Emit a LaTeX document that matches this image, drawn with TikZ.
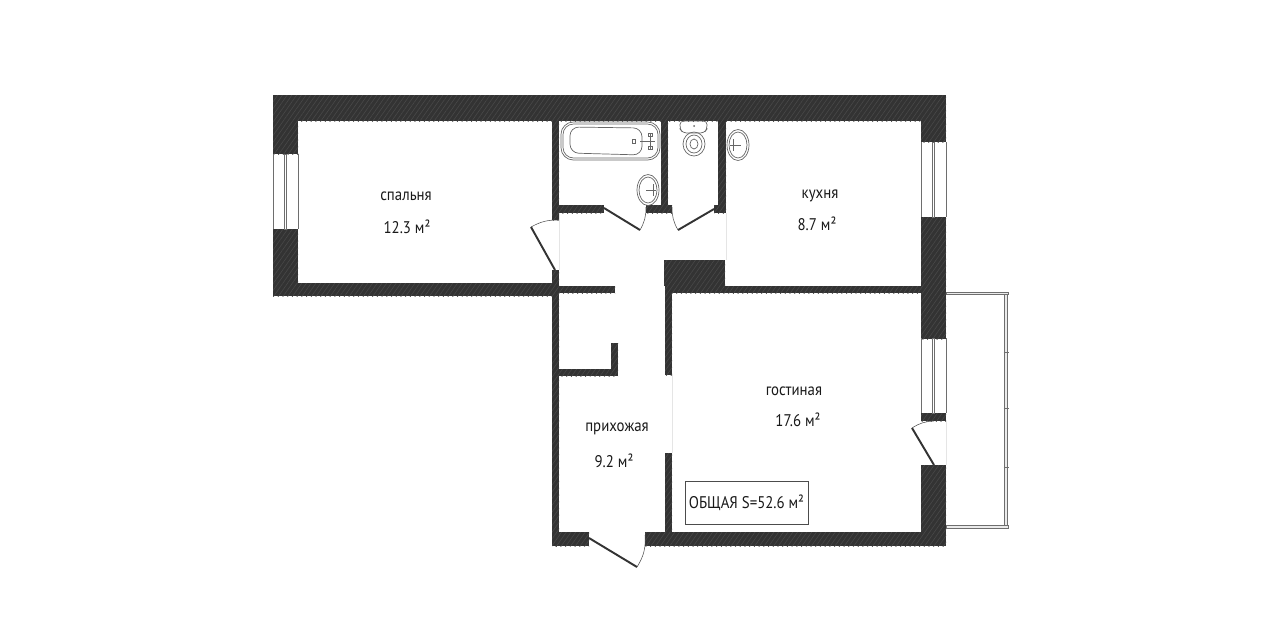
\documentclass[tikz,border=0pt]{standalone}
\usepackage{fontspec}
\setmainfont[FakeStretch=0.88]{PT Sans}
\usetikzlibrary{patterns.meta}
\definecolor{wallbase}{HTML}{333333}
\definecolor{wallhatch}{HTML}{484848}
\definecolor{framegray}{HTML}{6E6E6E}
\tikzset{
	wall/.style={preaction={fill=wallbase},pattern={Lines[angle=55,distance=2.2pt,line width=0.35pt]},pattern color=wallhatch},
	leaf/.style={line width=1.1pt,color=wallbase},
	swing/.style={line width=0.3pt,color=black!70},
	opening/.style={line width=0.3pt,color=black!10},
	fixture/.style={line width=0.4pt,color=black!60},
	roomlabel/.style={font=\fontsize{9.6}{11}\selectfont,inner sep=0pt,text=black!90},
}
\begin{document}
\begin{tikzpicture}[x=0.02cm,y=-0.02cm]
	\useasboundingbox (0, 0) rectangle (1280, 640);
	% walls
	\foreach \xa/\ya/\xb/\yb in {
		273/95/946/121, 273/121/298/154, 273/229/298/296, 298/283/559/296,
		921/121/946/142, 921/217/946/339, 921/413/946/421, 921/465/946/546,
		552/121/559/220, 552/270/559/546, 559/205/604/213, 646/205/672/213,
		661/121/668/205, 718/121/726/213, 714/205/718/213, 664/260/725/286,
		665/286/921/293, 665/293/672/375, 665/453/672/532, 559/286/615/293,
		559/369/618/376, 611/343/618/369, 552/532/589/546, 645/532/921/546}
		\fill[wall] (\xa, \ya) rectangle (\xb, \yb);
	% windows
	\foreach \xa/\ya/\xb/\yb in {273/154/298/229, 921/142/946/217, 921/338/946/413} {
		\draw[line width=0.35pt,framegray] (\xa, \ya) -- (\xa, \yb);
		\draw[line width=0.35pt,framegray] (\xb, \ya) -- (\xb, \yb);
		\draw[line width=0.35pt,framegray] ({(\xa+\xb)/2-1.2}, \ya) rectangle ({(\xa+\xb)/2+1.2}, \yb);
	}
	% doors
	\draw[leaf] (555, 270) -- (531, 227);
	\draw[swing] (531, 227) to[bend left=15] (559, 220);
	\draw[leaf] (604, 208) -- (640, 230);
	\draw[swing] (640, 230) to[bend right=15] (646, 207);
	\draw[leaf] (714, 209) -- (678, 230);
	\draw[swing] (678, 230) to[bend left=15] (672, 207);
	\draw[leaf] (589, 538) -- (637, 567);
	\draw[swing] (637, 567) to[bend right=18] (645, 535);
	\draw[leaf] (934, 465) -- (912, 428);
	\draw[swing] (912, 428) to[bend left=15] (934, 421);
	% openings
	\draw[opening] (559, 213) -- (559, 270);
	\draw[opening] (726, 213) -- (726, 260);
	\draw[opening] (672, 375) -- (672, 453);
	\draw[opening] (946, 421) -- (946, 465);
	% balcony
	\draw[line width=0.45pt,framegray,fill=black!8] (946, 292) rectangle (1008, 294.5);
	\draw[line width=0.45pt,framegray,fill=black!8] (946, 525.5) rectangle (1008, 528);
	\draw[line width=0.45pt,framegray,fill=black!8] (1004.5, 294.5) rectangle (1007.5, 525.5);
	\foreach \ya in {352, 408, 467}
		\draw[line width=0.4pt,framegray] (1003.5, \ya) -- (1009, \ya);
	% bath
	\draw[fixture,rounded corners=7pt] (561, 122) rectangle (660, 160);
	\draw[fixture,rounded corners=6pt] (563, 124) rectangle (658, 158);
	\draw[fixture,rounded corners=5pt] (570, 127) -- (642, 128) -- (642, 155) -- (570, 153) -- cycle;
	\draw[fixture] (632, 139) rectangle (635, 143);
	\draw[fixture] (640, 141) -- (655, 141);
	\draw[fixture] (650, 133) -- (650, 149);
	\draw[fixture] (648, 133) rectangle (652, 136);
	\draw[fixture] (648, 146) rectangle (652, 149);
	% basins
	\foreach \xa/\ya in {648/190, 738/145} {
		\draw[fixture] (\xa, \ya) ellipse (11 and 15.5);
		\draw[fixture] (\xa, \ya) ellipse (9 and 13);
	}
	\draw[fixture] (646, 190) -- (656, 190);
	\draw[fixture] (653, 184) -- (653, 196);
	\draw[fixture] (730, 145) -- (741, 145);
	\draw[fixture] (733, 139) -- (733, 151);
	% toilet
	\draw[fixture,rounded corners=2pt] (680, 121) -- (707, 121) -- (707, 129) -- (704, 133) -- (683, 133) -- (680, 129) -- cycle;
	\fill[black!60] (694, 126) circle (1);
	\draw[fixture] (694, 144) ellipse (11 and 12);
	\draw[fixture] (694, 144) ellipse (8 and 9);
	\draw[fixture] (694, 144) ellipse (4 and 5);
	% labels
	\node[roomlabel] (bedroom) at (406, 196) {спальня};
	\node[roomlabel] (bedroomarea) at (407, 227) {12.3 м²};
	\node[roomlabel] (kitchen) at (820, 196) {кухня};
	\node[roomlabel] (kitchenarea) at (817, 224) {8.7 м²};
	\node[roomlabel] (living) at (794, 391) {гостиная};
	\node[roomlabel] (livingarea) at (798, 420) {17.6 м²};
	\node[roomlabel] (hall) at (617, 429) {прихожая};
	\node[roomlabel] (hallarea) at (614, 461) {9.2 м²};
	\node[roomlabel,draw=black!70,line width=0.35pt,minimum width=2.46cm,minimum height=0.86cm] (total) at (746.5, 502.5) {ОБЩАЯ S=52.6 м²};
\end{tikzpicture}
\end{document}
